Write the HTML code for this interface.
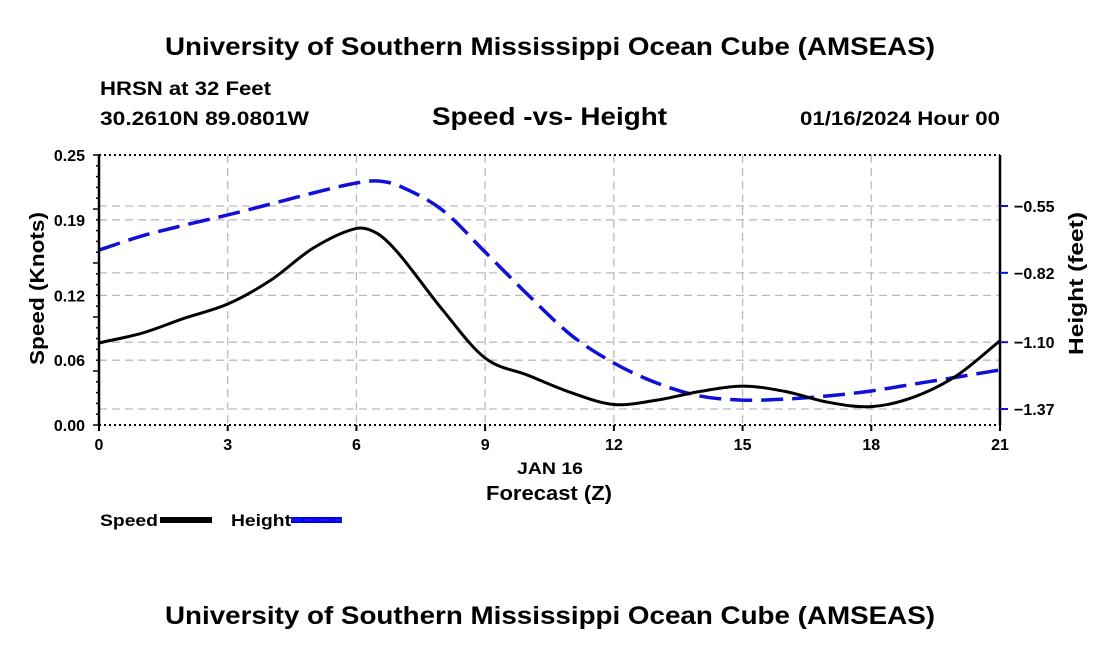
<!DOCTYPE html>
<html><head><meta charset="utf-8"><style>
body{margin:0;background:#fff;width:1100px;height:650px;overflow:hidden}
svg text{font-family:"Liberation Sans",Arial,sans-serif;font-weight:bold;fill:#000}
</style></head><body>
<svg id="chart" width="1100" height="650" xmlns="http://www.w3.org/2000/svg">
<text x="165" y="55" font-size="25" textLength="770" lengthAdjust="spacingAndGlyphs">University of Southern Mississippi Ocean Cube (AMSEAS)</text>
<text x="100" y="95" font-size="19" textLength="171" lengthAdjust="spacingAndGlyphs">HRSN at 32 Feet</text>
<text x="100" y="125" font-size="19" textLength="209" lengthAdjust="spacingAndGlyphs">30.2610N  89.0801W</text>
<text x="432" y="125" font-size="25" textLength="235" lengthAdjust="spacingAndGlyphs">Speed -vs- Height</text>
<text x="800" y="125" font-size="19" textLength="200" lengthAdjust="spacingAndGlyphs">01/16/2024 Hour 00</text>
<text x="165" y="624" font-size="25" textLength="770" lengthAdjust="spacingAndGlyphs">University of Southern Mississippi Ocean Cube (AMSEAS)</text>
<g id="grid"></g>
<g id="series"></g>
<g id="axes"></g>
<text x="517" y="474" font-size="17" textLength="66" lengthAdjust="spacingAndGlyphs">JAN 16</text>
<text x="486" y="500" font-size="20" textLength="126" lengthAdjust="spacingAndGlyphs">Forecast (Z)</text>
<text transform="translate(44,365) rotate(-90)" font-size="20" textLength="153" lengthAdjust="spacingAndGlyphs">Speed (Knots)</text>
<text transform="translate(1083,355) rotate(-90)" font-size="20" textLength="143" lengthAdjust="spacingAndGlyphs">Height (feet)</text>
<g>
<text x="100" y="526" font-size="17" textLength="58" lengthAdjust="spacingAndGlyphs">Speed</text>
<line x1="160" y1="520" x2="212" y2="520" stroke="#000" stroke-width="6"/>
<text x="231" y="526" font-size="17" textLength="60" lengthAdjust="spacingAndGlyphs">Height</text>
<line x1="291" y1="520" x2="342" y2="520" stroke="#0000ff" stroke-width="6"/>
<line x1="291" y1="520" x2="342" y2="520" stroke="#1c1ccc" stroke-width="2" stroke-dasharray="10,4"/>
</g>
</svg>
<script>
const hours=[0,1,2,3,4,5,6,6.5,7,8,9,10,11,12,13,14,15,16,17,18,19,20,21];
const speed=[0.076,0.085,0.099,0.112,0.134,0.164,0.182,0.177,0.158,0.107,0.062,0.046,0.030,0.019,0.023,0.031,0.036,0.031,0.021,0.017,0.026,0.046,0.078];
const height=[-0.728,-0.671,-0.627,-0.586,-0.542,-0.497,-0.457,-0.449,-0.469,-0.566,-0.736,-0.909,-1.071,-1.184,-1.265,-1.317,-1.334,-1.33,-1.317,-1.297,-1.269,-1.241,-1.212];
const xTicks=[0,3,6,9,12,15,18,21];
const leftTicks=[0.00,0.06,0.12,0.19,0.25];
const leftTickLabels=["0.00","0.06","0.12","0.19","0.25"];
const rightTicks=[-0.55,-0.82,-1.10,-1.37];
const rightTickLabels=["\u22120.55","\u22120.82","\u22121.10","\u22121.37"];

const X0=99,X1=1000,YT=155,YB=425;
const xs=h=>X0+(h-0)/21*(X1-X0);
const ysL=v=>YB-v/0.25*(YB-YT);
const ysR=v=>206-(v-(-0.55))*247.6;
const NS="http://www.w3.org/2000/svg";
function mk(tag,attrs,parent){const e=document.createElementNS(NS,tag);for(const k in attrs)e.setAttribute(k,attrs[k]);document.getElementById(parent).appendChild(e);return e;}
xTicks.forEach(t=>{if(t===0||t===21)return;const l=mk('line',{x1:xs(t),x2:xs(t),y1:YT,y2:YB,stroke:'#bbb','stroke-width':1.3,'stroke-dasharray':'8,5'},'grid');

});
leftTicks.forEach(t=>{if(t===0||t===0.25)return;const l=mk('line',{x1:X0,x2:X1,y1:ysL(t),y2:ysL(t),stroke:'#bbb','stroke-width':1.3,'stroke-dasharray':'8,5'},'grid');

});
rightTicks.forEach(t=>{const l=mk('line',{x1:X0,x2:X1,y1:ysR(t),y2:ysR(t),stroke:'#bbb','stroke-width':1.3,'stroke-dasharray':'8,5'},'grid');

});
function path(vals,ys){const p=hours.map((h,i)=>[xs(h),ys(vals[i])]);let d='M'+p[0][0]+','+p[0][1];
for(let i=0;i<p.length-1;i++){const a=p[i-1]||p[i],b=p[i],c=p[i+1],e=p[i+2]||c;
const s1=(c[0]-b[0])/(c[0]-a[0]||1),s2=(c[0]-b[0])/(e[0]-b[0]||1);
d+=' C'+(b[0]+(c[0]-a[0])*s1/3)+','+(b[1]+(c[1]-a[1])*s1/3)+' '+(c[0]-(e[0]-b[0])*s2/3)+','+(c[1]-(e[1]-b[1])*s2/3)+' '+c[0]+','+c[1];}return d;}
const hp=mk('path',{d:path(height,ysR),fill:'none',stroke:'#1010d8','stroke-width':3.5,'stroke-dasharray':'22,9'},'series');


const sp=mk('path',{d:path(speed,ysL),fill:'none',stroke:'#000','stroke-width':3},'series');


[[X0,YT,X1,YT,'top-axis','#000',2,'2,3'],[X0,YB,X1,YB,'bottom-axis','#000',2,'2,3'],[X0,YT,X0,YB,'left-axis','#000',2.5,''],[X1,YT,X1,YB,'right-axis','#000',2.5,'']].forEach(a=>{
const l=mk('line',{x1:a[0],y1:a[1],x2:a[2],y2:a[3],stroke:a[5],'stroke-width':a[6],'stroke-dasharray':a[7]},'axes');

});
xTicks.forEach(t=>{const l=mk('line',{x1:xs(t),x2:xs(t),y1:YB,y2:YB+6,stroke:'#000','stroke-width':2},'axes');


const tx=mk('text',{x:xs(t),y:YB+25,'font-size':16,'text-anchor':'middle'},'axes');tx.textContent=t;

});
for(let v=0;v<=0.25001;v+=0.01){const l=mk('line',{x1:X0-(Math.abs(v*100-Math.round(v*100/5)*5)<0.01?6:3),x2:X0,y1:ysL(v),y2:ysL(v),stroke:'#000','stroke-width':1.5},'axes');

}
leftTicks.forEach((t,i)=>{const tx=mk('text',{x:X0-14,y:ysL(t)+6,'font-size':16,'text-anchor':'end'},'axes');tx.textContent=leftTickLabels[i];

});
rightTicks.forEach((t,i)=>{const l=mk('line',{x1:X1,x2:X1+8,y1:ysR(t),y2:ysR(t),stroke:'#1010d8','stroke-width':2},'axes');


const tx=mk('text',{x:X1+14,y:ysR(t)+6,'font-size':16},'axes');tx.textContent=rightTickLabels[i];

});
</script>
</body></html>
